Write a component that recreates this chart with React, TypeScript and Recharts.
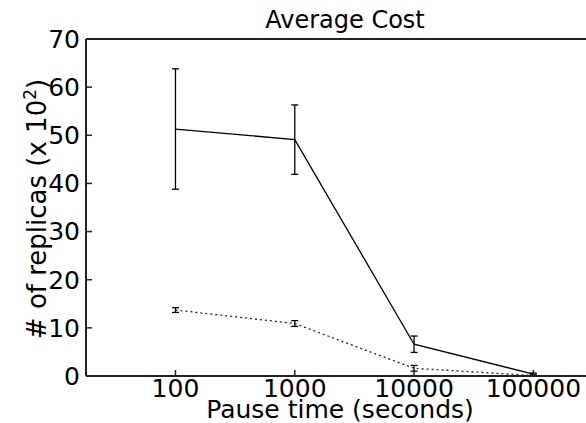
import React from "react";
import { LineChart, Line, XAxis, YAxis, ErrorBar, ReferenceLine, Customized } from "recharts";

const FONT = "'DejaVu Sans', sans-serif";

const pauseTimes = [100, 1000, 10000, 100000];
const solidMean = [51.3, 49.1, 6.6, 0.4];
const solidErr = [12.5, 7.2, 1.7, 0.2];
const dottedMean = [13.7, 10.9, 1.6, 0.1];
const dottedErr = [0.5, 0.6, 0.6, 0.1];
const xTicks = [100, 1000, 10000, 100000];
const yTicks = [0, 10, 20, 30, 40, 50, 60, 70];

const data = pauseTimes.map((t, i) => ({
  t,
  solid: solidMean[i],
  solidErr: solidErr[i],
  dotted: dottedMean[i],
  dottedErr: dottedErr[i],
}));

const Texts = () => (
  <g fontFamily={FONT} fill="#000">
    <text x={345} y={28} fontSize={24} textAnchor="middle">
      Average Cost
    </text>
    <text x={340} y={418} fontSize={25} textAnchor="middle">
      Pause time (seconds)
    </text>
    <text transform="rotate(-90 46 209)" x={46} y={209} fontSize={26} textAnchor="middle">
      # of replicas (x 10<tspan dy={-10} fontSize={17}>2</tspan>
      <tspan dy={10}>)</tspan>
    </text>
  </g>
);

const App: React.FC = () => {
  const tick = { fontSize: 25, fill: "#000", fontFamily: FONT };
  const axisLine = { stroke: "#222", strokeWidth: 2 };
  const tickLine = { stroke: "#222", strokeWidth: 1.5 };
  return (
    <div style={{ position: "absolute", left: 0, top: 0, width: 586, height: 423, overflow: "hidden", background: "#fff" }}>
      <LineChart width={593} height={423} data={data} margin={{ top: 39, right: 0, bottom: 0, left: 0 }}>
        <XAxis
          dataKey="t"
          type="number"
          scale="log"
          domain={[17.78, 316228]}
          allowDataOverflow
          ticks={xTicks}
          interval={0}
          tickFormatter={(v: number) => String(v)}
          tick={tick}
          tickSize={-6}
          tickMargin={9}
          height={47}
          axisLine={axisLine}
          tickLine={tickLine}
        />
        <YAxis
          type="number"
          domain={[0, 70]}
          ticks={yTicks}
          interval={0}
          tick={tick}
          tickSize={-6}
          tickMargin={12}
          width={86}
          axisLine={axisLine}
          tickLine={tickLine}
        />
        <ReferenceLine y={70} stroke="#222" strokeWidth={2} />
        <Line dataKey="solid" stroke="#000" strokeWidth={1.3} dot={false} isAnimationActive={false}>
          <ErrorBar dataKey="solidErr" width={3.5} stroke="#000" strokeWidth={1.3} direction="y" />
        </Line>
        <Line dataKey="dotted" stroke="#222" strokeWidth={1.3} strokeDasharray="2 3" dot={false} isAnimationActive={false}>
          <ErrorBar dataKey="dottedErr" width={3.5} stroke="#000" strokeWidth={1.3} direction="y" />
        </Line>
        <Customized component={<Texts />} />
      </LineChart>
    </div>
  );
};

export default App;
